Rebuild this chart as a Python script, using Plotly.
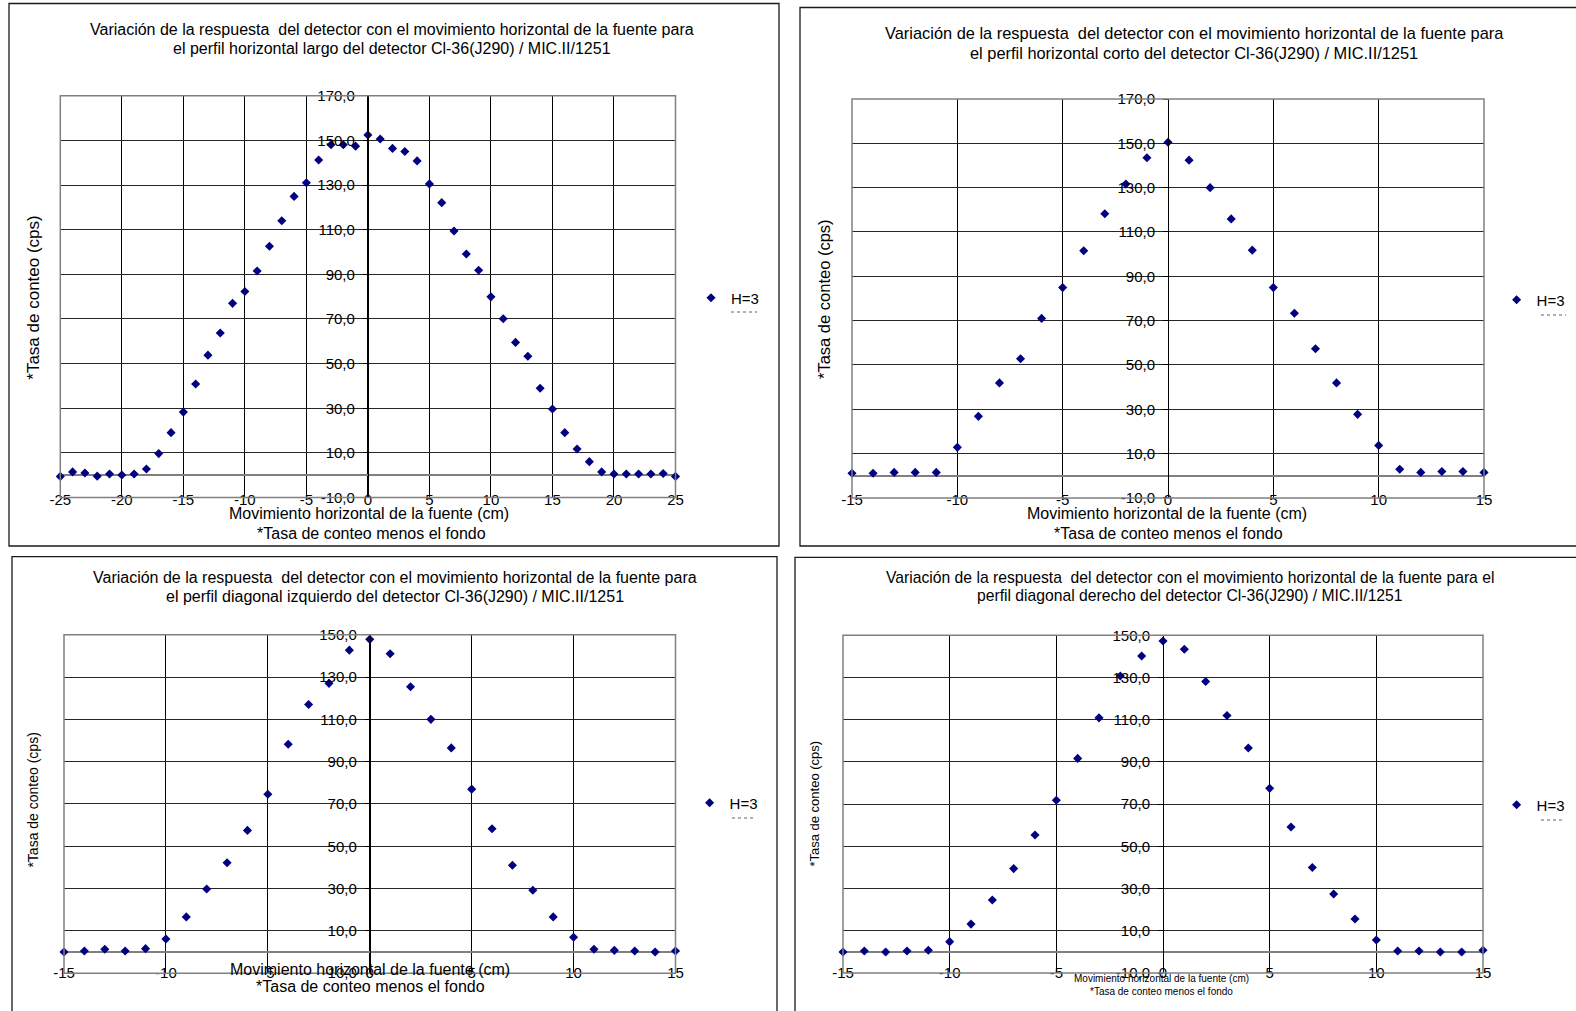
import plotly.graph_objects as go

# ---------------- data ----------------
POS_LARGO = list(range(-25, 26))
CPS_LARGO = [-0.5, 1.5, 1.0, -0.4, 0.6, 0.1, 0.6, 2.8, 9.7, 19.1, 28.3, 40.9, 53.8, 63.7,
             77.0, 82.3, 91.5, 102.6, 114.0, 124.9, 131.0, 141.2, 148.0, 148.0, 147.4,
             152.4, 150.6, 146.4, 145.0, 140.8, 130.5, 122.1, 109.4, 99.1, 91.8, 79.9,
             70.1, 59.5, 53.3, 39.0, 29.7, 19.1, 11.8, 6.1, 1.5, 0.6, 0.6, 0.6, 0.6, 0.8, -0.5]

POS_CORTO = list(range(-15, 16))
CPS_CORTO = [1.1, 1.1, 1.5, 1.5, 1.5, 12.8, 26.8, 41.9, 52.8, 71.0, 84.9, 101.5, 118.2,
             131.6, 143.5, 150.5, 142.4, 130.0, 115.9, 101.8, 84.9, 73.3, 57.3, 41.9,
             27.7, 13.7, 2.9, 1.5, 1.9, 1.9, 1.5]

POS_DIAG_IZQ = list(range(-15, 16))
CPS_DIAG_IZQ = [0.0, 0.5, 1.3, 0.5, 1.6, 6.2, 16.6, 29.8, 42.2, 57.5, 74.6, 98.2, 117.0,
                127.0, 142.7, 147.8, 141.0, 125.4, 110.0, 96.5, 77.0, 58.3, 41.0, 29.2,
                16.6, 7.0, 1.3, 0.8, 0.5, 0.0, 0.5]

POS_DIAG_DER = list(range(-15, 16))
CPS_DIAG_DER = [0.0, 0.5, 0.0, 0.5, 0.8, 4.9, 13.2, 24.6, 39.5, 55.4, 71.9, 91.7, 110.9,
                130.7, 140.2, 147.3, 143.4, 128.1, 112.0, 96.6, 77.5, 59.2, 40.0, 27.5,
                15.6, 5.7, 0.5, 0.5, 0.0, 0.0, 0.8]

SERIES_NAME = "H=3"

X_TICKS_25 = [-25, -20, -15, -10, -5, 0, 5, 10, 15, 20, 25]
X_LABELS_25 = ["-25", "-20", "-15", "-10", "-5", "0", "5", "10", "15", "20", "25"]
X_TICKS_15 = [-15, -10, -5, 0, 5, 10, 15]
X_LABELS_15 = ["-15", "-10", "-5", "0", "5", "10", "15"]

Y_TICKS_170 = [-10, 10, 30, 50, 70, 90, 110, 130, 150, 170]
Y_LABELS_170 = ["-10,0", "10,0", "30,0", "50,0", "70,0", "90,0", "110,0", "130,0", "150,0", "170,0"]
Y_TICKS_150 = [-10, 10, 30, 50, 70, 90, 110, 130, 150]
Y_LABELS_150 = ["-10,0", "10,0", "30,0", "50,0", "70,0", "90,0", "110,0", "130,0", "150,0"]

TITLES = [
    ["Variación de la respuesta\u00a0 del detector con el movimiento horizontal de la fuente para",
     "el perfil horizontal largo del detector Cl-36(J290) / MIC.II/1251"],
    ["Variación de la respuesta\u00a0 del detector con el movimiento horizontal de la fuente para",
     "el perfil horizontal corto del detector Cl-36(J290) / MIC.II/1251"],
    ["Variación de la respuesta\u00a0 del detector con el movimiento horizontal de la fuente para",
     "el perfil diagonal izquierdo del detector Cl-36(J290) / MIC.II/1251"],
    ["Variación de la respuesta\u00a0 del detector con el movimiento horizontal de la fuente para el",
     "perfil diagonal derecho del detector Cl-36(J290) / MIC.II/1251"],
]
X_TITLE = "Movimiento horizontal de la fuente (cm)"
X_NOTE = "*Tasa de conteo menos el fondo"
Y_TITLE = "*Tasa de conteo (cps)"

# ---------------- layout helpers ----------------
W, H = 1576, 1011
FONT = "Liberation Sans, Arial, Helvetica, sans-serif"
NAVY = "#000080"


def fx(px):
    return px / W


def fy(py):
    return 1 - py / H


# per-panel geometry in pixels
PANELS = [
    dict(x=POS_LARGO, y=CPS_LARGO, xr=(-25, 25), xt=X_TICKS_25, xl=X_LABELS_25,
         yr=(-10, 170), yt=Y_TICKS_170, yl=Y_LABELS_170,
         plot=(60.3, 675.5, 95.7, 497.6), frame=(9, 779, 3.5, 546),
         title_x=392, title_y=(29.3, 48.3), tsize=16,
         xt_pos=((369, 513.3), (371, 533.3)), xtsize=16,
         yt_pos=(33.2, 297.5), ytsize=17,
         leg=(712, 298), dash=(731, 757, 312), standoff=-9),
    dict(x=POS_CORTO, y=CPS_CORTO, xr=(-15, 15), xt=X_TICKS_15, xl=X_LABELS_15,
         yr=(-10, 170), yt=Y_TICKS_170, yl=Y_LABELS_170,
         plot=(852, 1484, 99, 497.9), frame=(800, 1590, 7.5, 546),
         title_x=1194, title_y=(33.3, 53.3), tsize=16.4,
         xt_pos=((1167, 513), (1168, 533)), xtsize=16,
         yt_pos=(824, 299), ytsize=16.5,
         leg=(1517.6, 300), dash=(1541, 1566, 315), standoff=-9),
    dict(x=POS_DIAG_IZQ, y=CPS_DIAG_IZQ, xr=(-15, 15), xt=X_TICKS_15, xl=X_LABELS_15,
         yr=(-10, 150), yt=Y_TICKS_150, yl=Y_LABELS_150,
         plot=(64, 675.5, 634.7, 973.2), frame=(12, 777, 556.7, 1030),
         title_x=395, title_y=(577.3, 596), tsize=16,
         xt_pos=((370, 969.3), (370, 986)), xtsize=16,
         yt_pos=(33, 800.6), ytsize=14,
         leg=(710.6, 803), dash=(732, 756, 818), standoff=-11),
    dict(x=POS_DIAG_DER, y=CPS_DIAG_DER, xr=(-15, 15), xt=X_TICKS_15, xl=X_LABELS_15,
         yr=(-10, 150), yt=Y_TICKS_150, yl=Y_LABELS_150,
         plot=(843, 1483, 635.3, 973.1), frame=(795, 1590, 557.3, 1030),
         title_x=1190, title_y=(577.3, 595.3), tsize=15.7,
         xt_pos=((1161, 978.7), (1161, 991.3)), xtsize=10,
         yt_pos=(815, 803.6), ytsize=13,
         leg=(1517.6, 805), dash=(1541, 1564, 820), standoff=-11),
]

fig = go.Figure()
shapes = []
annotations = []
layout_extra = {}

for i, p in enumerate(PANELS, start=1):
    sfx = "" if i == 1 else str(i)
    xname, yname = "x" + sfx, "y" + sfx
    legname = "legend" + sfx
    left, right, top, bottom = p["plot"]

    fig.add_trace(go.Scatter(
        x=p["x"], y=p["y"], mode="markers", name=SERIES_NAME,
        marker=dict(symbol="diamond", size=7, color=NAVY),
        xaxis=xname, yaxis=yname, legend=legname, showlegend=True,
        cliponaxis=False,
    ))

    # position of x = 0 in pixels, where the value axis crosses
    x0_px = left + (0 - p["xr"][0]) / (p["xr"][1] - p["xr"][0]) * (right - left)

    layout_extra["xaxis" + sfx] = dict(
        domain=[fx(left), fx(right)], range=list(p["xr"]), anchor=yname,
        tickvals=p["xt"], ticktext=p["xl"], ticks="",
        showgrid=True, gridcolor="#000000", gridwidth=1,
        zeroline=False, showline=False, automargin=False,
        tickfont=dict(family=FONT, size=15, color="black"),
        ticklabelstandoff=p["standoff"], fixedrange=True,
    )
    layout_extra["yaxis" + sfx] = dict(
        domain=[fy(bottom), fy(top)], range=list(p["yr"]), anchor="free",
        position=fx(x0_px), automargin=False,
        tickvals=p["yt"], ticktext=p["yl"], ticks="outside", ticklen=5,
        tickcolor="black", tickwidth=1,
        showgrid=True, gridcolor="#262626", gridwidth=1.3,
        zeroline=True, zerolinecolor="#808080", zerolinewidth=1.6,
        showline=True, linecolor="black", linewidth=1,
        tickfont=dict(family=FONT, size=15, color="black"),
        ticklabelstandoff=5, fixedrange=True,
    )
    layout_extra[legname] = dict(
        x=fx(p["leg"][0] - 21), y=fy(p["leg"][1]), xanchor="left", yanchor="middle",
        bgcolor="rgba(0,0,0,0)", borderwidth=0,
        font=dict(family=FONT, size=15, color="black"),
    )

    # plot-area border
    shapes.append(dict(type="rect", xref="paper", yref="paper",
                       x0=fx(left), x1=fx(right), y0=fy(bottom), y1=fy(top),
                       line=dict(color="#808080", width=1.5), layer="above"))
    # chart frame
    fl, fr, ft, fb = p["frame"]
    shapes.append(dict(type="rect", xref="paper", yref="paper",
                       x0=fx(fl), x1=fx(fr), y0=fy(fb), y1=fy(ft),
                       line=dict(color="#1a1a1a", width=1.3)))
    # small dashed mark under the legend entry
    dx0, dx1, dy = p["dash"]
    shapes.append(dict(type="line", xref="paper", yref="paper",
                       x0=fx(dx0), x1=fx(dx1), y0=fy(dy), y1=fy(dy),
                       line=dict(color="#606060", width=1, dash="dot")))

    # titles
    for line, ty in zip(TITLES[i - 1], p["title_y"]):
        annotations.append(dict(text=line, x=fx(p["title_x"]), y=fy(ty),
                                xref="paper", yref="paper", showarrow=False,
                                xanchor="center", yanchor="middle",
                                font=dict(family=FONT, size=p["tsize"], color="black")))
    # x-axis title and note
    for txt, (ax, ay) in zip([X_TITLE, X_NOTE], p["xt_pos"]):
        annotations.append(dict(text=txt, x=fx(ax), y=fy(ay),
                                xref="paper", yref="paper", showarrow=False,
                                xanchor="center", yanchor="middle",
                                font=dict(family=FONT, size=p["xtsize"], color="black")))
    # y-axis title
    annotations.append(dict(text=Y_TITLE, x=fx(p["yt_pos"][0]), y=fy(p["yt_pos"][1]),
                            xref="paper", yref="paper", showarrow=False, textangle=-90,
                            xanchor="center", yanchor="middle",
                            font=dict(family=FONT, size=p["ytsize"], color="black")))

fig.update_layout(
    width=W, height=H, autosize=False,
    margin=dict(l=0, r=0, t=0, b=0, pad=0, autoexpand=False),
    paper_bgcolor="white", plot_bgcolor="white",
    separators=",.",
    font=dict(family=FONT, color="black"),
    shapes=shapes, annotations=annotations,
    **layout_extra,
)

fig.write_html("out.html", config={"displayModeBar": False})
